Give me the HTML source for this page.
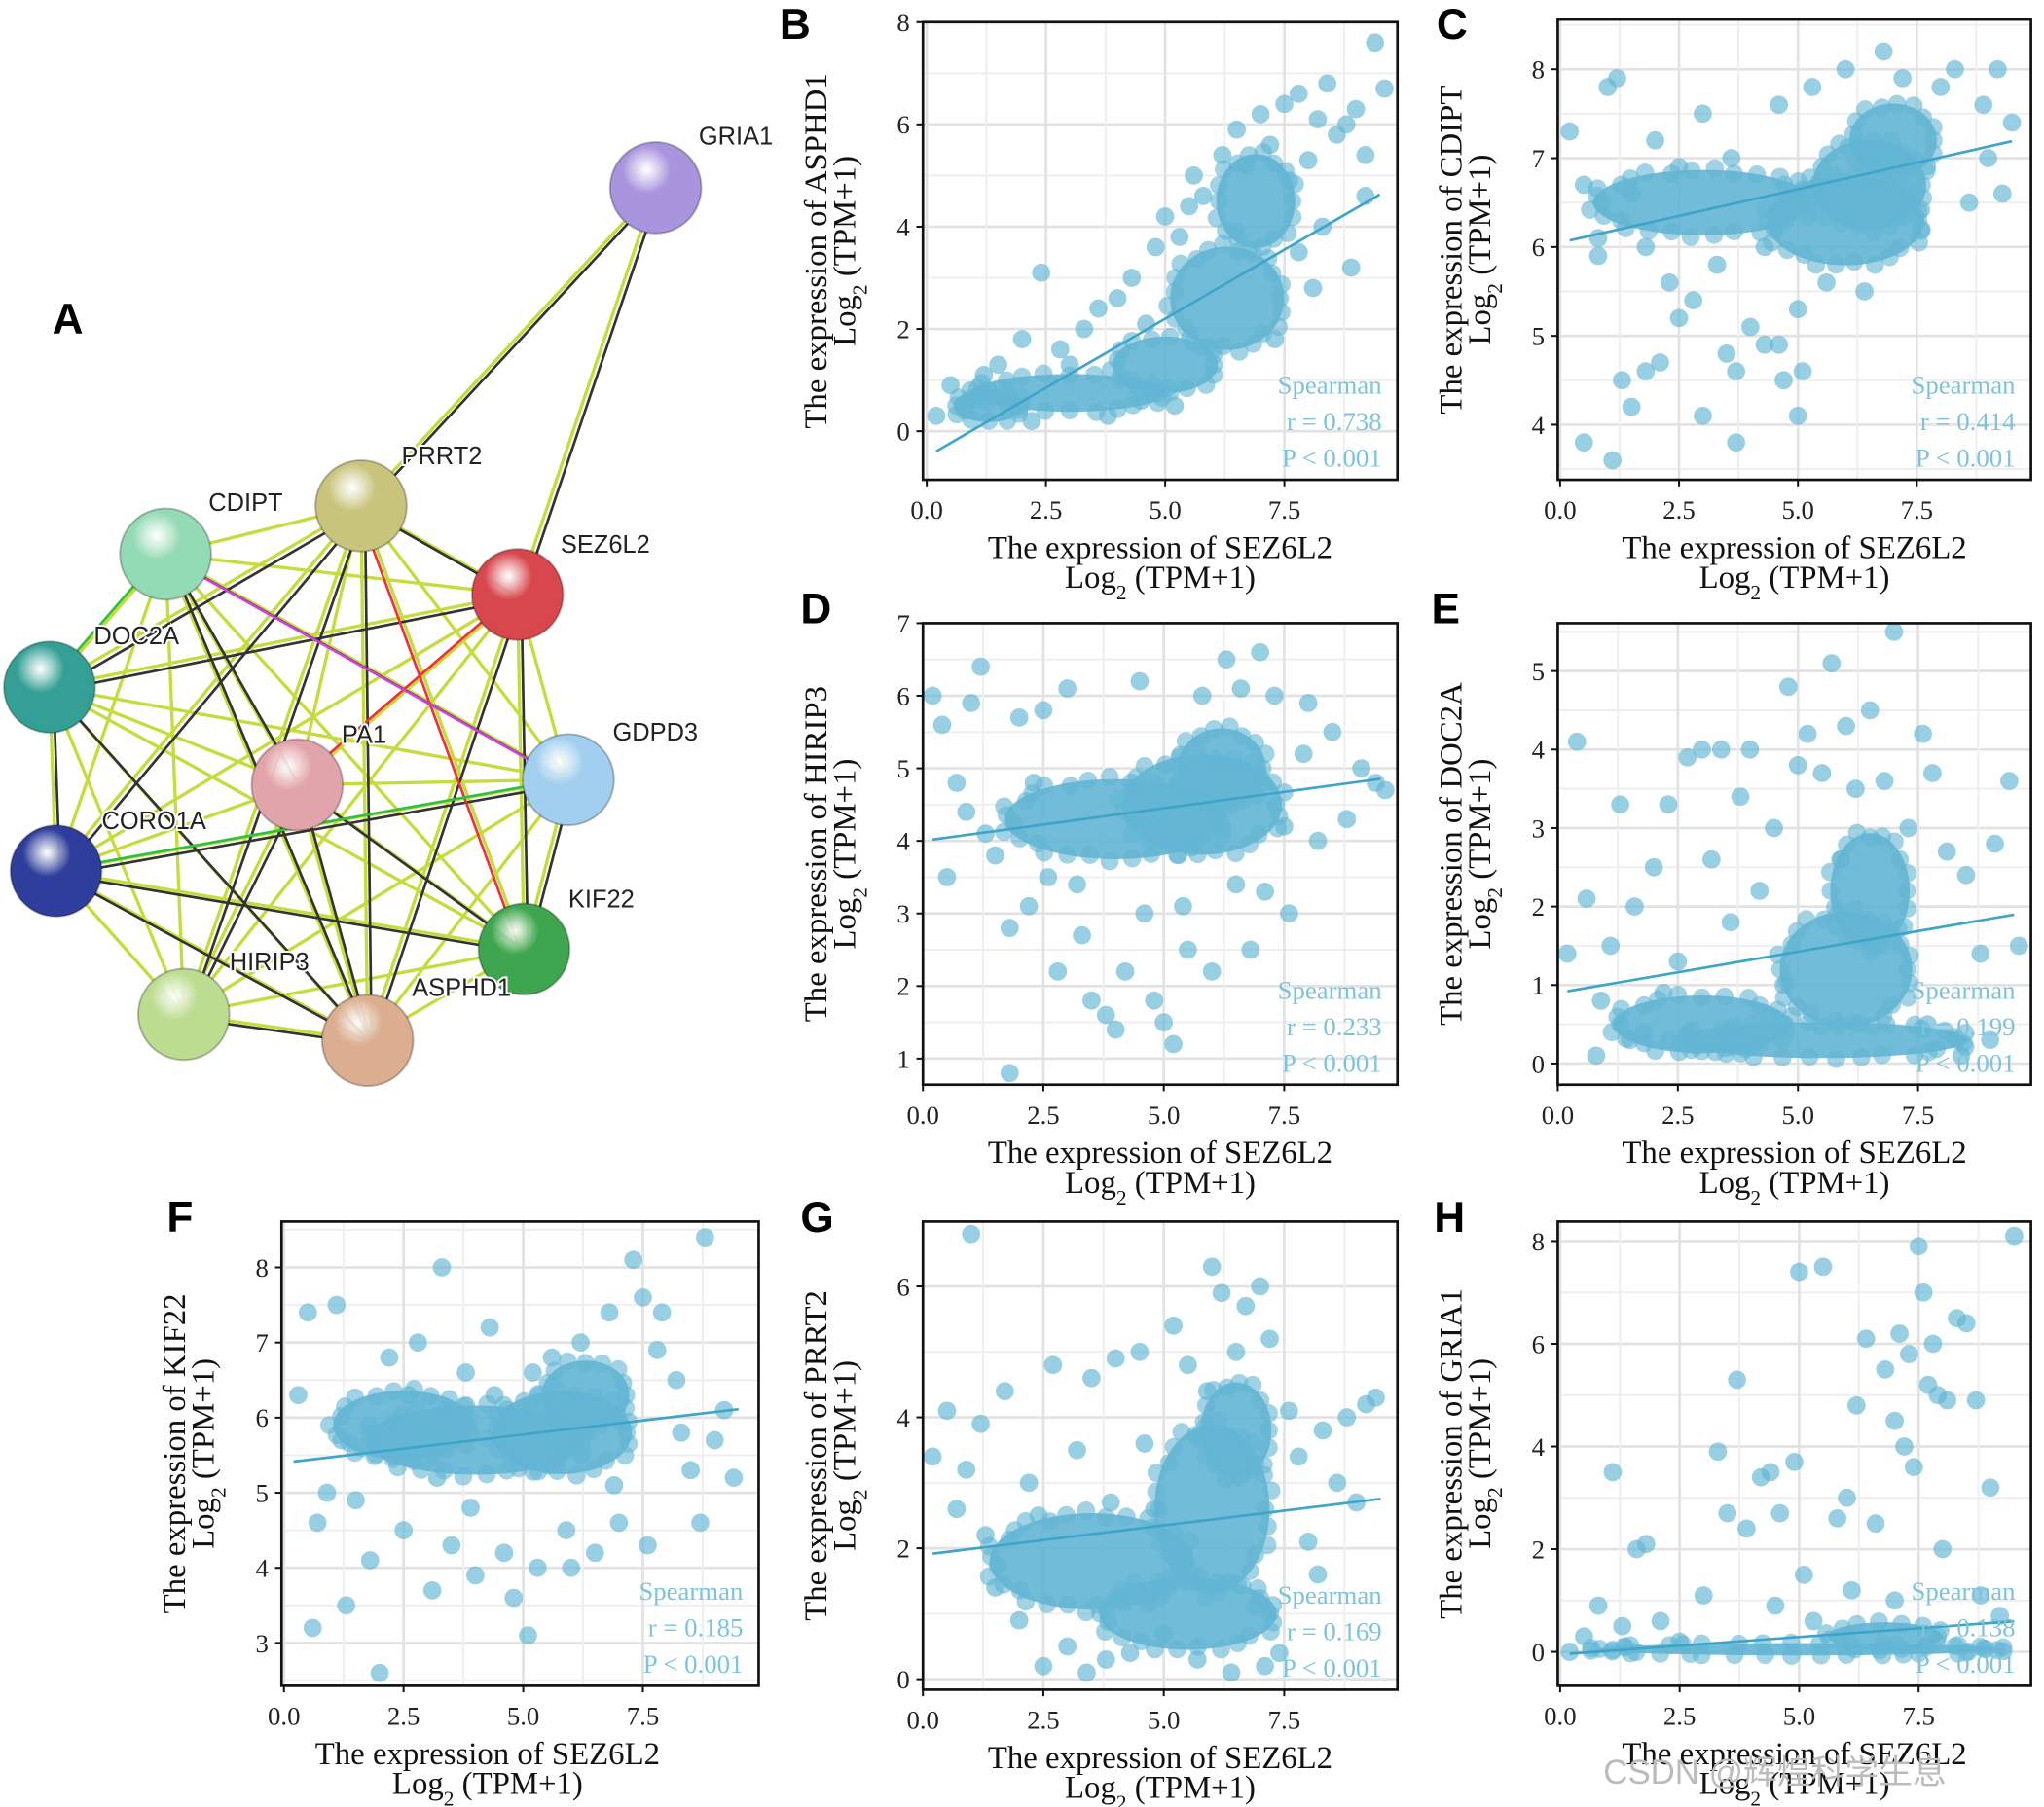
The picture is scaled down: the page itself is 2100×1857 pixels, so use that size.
<!DOCTYPE html>
<html><head><meta charset="utf-8"><style>
html,body{margin:0;padding:0;background:#fff;}
svg{display:block;}
.tk{font-family:"Liberation Serif",serif;font-size:20px;fill:#222;}
.tt{font-family:"Liberation Serif",serif;font-size:24.5px;fill:#111;}
.an{font-family:"Liberation Serif",serif;font-size:20px;fill:#7cc3dc;}
.pl{font-family:"Liberation Sans",sans-serif;font-size:33px;font-weight:bold;fill:#000;}
.nl{font-family:"Liberation Sans",sans-serif;font-size:19px;fill:#222;stroke:#fff;stroke-width:3px;paint-order:stroke;}
</style></head><body>
<svg id="fig" width="2100" height="1857" viewBox="0 0 1568 1386" preserveAspectRatio="none" xmlns="http://www.w3.org/2000/svg">
<rect width="1568" height="1386" fill="#fff"/>
<g id="net"></g>
<g id="plots"></g>
<text x="1230" y="1368" style="font-family:'Liberation Sans','Noto Sans CJK SC',sans-serif;font-size:26px;fill:#bbb;">CSDN @辉煌科学生息</text>
</svg>
<script>
const NS="http://www.w3.org/2000/svg";
function mk(t,a,p){const e=document.createElementNS(NS,t);for(const k in a)e.setAttribute(k,a[k]);p.appendChild(e);return e;}

// ---------- Network panel A ----------
const nodeNames=["GRIA1","PRRT2","CDIPT","SEZ6L2","DOC2A","PA1","GDPD3","CORO1A","KIF22","HIRIP3","ASPHD1"];
const nodeX=[503,277,127,397,38,228,436,43,402,141,282];
const nodeY=[144,388,425,456,527,602,598,668,728,778,798];
const nodeColors=["#a994de","#c9c47c","#93dbb4","#d8474e","#34a095","#e2a4ab","#a2cff0","#2f3e9c","#3ea64e","#bcdc90","#dcae90"];
const net=document.getElementById('net');
const others=[1,2,3,4,5,6,7,8,9,10];
const darkPairs=[[1,3],[1,4],[1,7],[1,10],[2,5],[2,10],[2,6],[3,4],[3,10],[3,8],[4,7],[4,10],[5,8],[5,9],[7,8],[7,10],[7,6],[9,10],[6,8],[5,10],[1,9]];
for(let i=0;i<others.length;i++)for(let j=i+1;j<others.length;j++){
  const a=others[i],b=others[j];
  const e=mk('line',{x1:nodeX[a],y1:nodeY[a],x2:nodeX[b],y2:nodeY[b],stroke:'#c6dc3c','stroke-width':2.5},net);
  
  
}
darkPairs.forEach(p=>{const e=mk('line',{x1:nodeX[p[0]]+3,y1:nodeY[p[0]]+3,x2:nodeX[p[1]]+3,y2:nodeY[p[1]]+3,stroke:'#333','stroke-width':2},net);
  
  });
[[0,1],[0,3]].forEach(p=>{
  mk('line',{x1:nodeX[p[0]],y1:nodeY[p[0]],x2:nodeX[p[1]],y2:nodeY[p[1]],stroke:'#c6dc3c','stroke-width':2.5},net);
  const e=mk('line',{x1:nodeX[p[0]]+4,y1:nodeY[p[0]],x2:nodeX[p[1]]+4,y2:nodeY[p[1]],stroke:'#333','stroke-width':2},net);
  
  });
[[1,8,'#f0303a'],[3,5,'#f0303a'],[2,6,'#d040e0'],[2,4,'#30c040'],[7,6,'#30c040']].forEach(p=>{
  const e=mk('line',{x1:nodeX[p[0]]-3,y1:nodeY[p[0]],x2:nodeX[p[1]]-3,y2:nodeY[p[1]],stroke:p[2],'stroke-width':2},net);
  
  });
const defs=mk('defs',{},net);
nodeNames.forEach((n,i)=>{
  const g=mk('radialGradient',{id:'g'+i,cx:'40%',cy:'30%',r:'75%'},defs);
  mk('stop',{offset:'0%','stop-color':'#ffffff','stop-opacity':0.9},g);
  mk('stop',{offset:'35%','stop-color':nodeColors[i]},g);
  mk('stop',{offset:'100%','stop-color':nodeColors[i],'stop-opacity':1},g);
});
nodeNames.forEach((n,i)=>{
  const c=mk('circle',{cx:nodeX[i],cy:nodeY[i],r:35,fill:'url(#g'+i+')',stroke:'rgba(0,0,0,0.25)','stroke-width':1.5},net);
  
  
});
const labX=[536,308,160,430,72,262,470,78,436,176,316];
const labY=[111,356,392,424,494,570,568,636,696,744,764];
nodeNames.forEach((n,i)=>{
  const t=mk('text',{x:labX[i],y:labY[i],class:'nl'},net);t.textContent=n;
  
  
});
const la=mk('text',{x:40,y:256,class:'pl'},net);la.textContent='A';



// ---------- Scatter data ----------
const xTicks=[0,2.5,5,7.5];
const xTickLabels=["0.0","2.5","5.0","7.5"];
const panelLetters=["B","C","D","E","F","G","H"];
const genes=["ASPHD1","CDIPT","HIRIP3","DOC2A","KIF22","PRRT2","GRIA1"];
const rValues=["0.738","0.414","0.233","0.199","0.185","0.169","0.138"];
const yTicksB=[0,2,4,6,8],yTicksC=[4,5,6,7,8],yTicksD=[1,2,3,4,5,6,7],yTicksE=[0,1,2,3,4,5],yTicksF=[3,4,5,6,7,8],yTicksG=[0,2,4,6],yTicksH=[0,2,4,6,8];
const intercepts=[-0.5,6.05,4.0,0.9,5.4,1.9,-0.05];
const slopes=[0.54,0.12,0.09,0.105,0.075,0.09,0.068];
const ptsB=[[0.2,0.3],[0.5,0.9],[1,0.6],[1.5,1.3],[2,1.8],[2.4,3.1],[2.8,1.6],[3.3,2.0],[3.6,2.4],[4,2.6],[4.3,3.0],[4.6,2.1],[4.8,3.6],[5,4.2],[5.3,3.8],[5.5,4.4],[5.6,5.0],[5.8,4.6],[6.2,5.4],[6.5,5.9],[6.7,5.2],[7,6.2],[7.2,5.6],[7.5,6.4],[7.8,6.6],[8,5.3],[8.2,6.1],[8.4,6.8],[8.6,5.8],[8.8,6.0],[9,6.3],[9.2,5.4],[9.4,7.6],[9.6,6.7],[7.6,4.9],[8.3,4.0],[6,1.6],[7.3,1.8],[8.1,2.8],[8.9,3.2],[3.8,0.3],[4.5,0.6],[2.2,0.2],[1.2,1.1],[0.8,0.4],[3,1.3],[6.5,3.9],[7.8,3.5],[9.2,4.6],[5.2,0.5]];
const ptsC=[[0.2,7.3],[0.5,6.7],[0.8,6.1],[1,7.8],[1.2,7.9],[1.5,6.6],[1.8,6.0],[2,7.2],[2.3,5.6],[2.5,6.9],[2.8,5.4],[3,7.5],[3.3,5.8],[3.6,7.0],[4,5.1],[4.3,6.0],[4.6,7.6],[5,5.3],[5.3,7.8],[5.6,5.6],[6,8.0],[6.4,5.5],[6.8,8.2],[7.2,7.9],[7.6,6.2],[8,7.8],[8.3,8.0],[8.6,6.5],[8.9,7.6],[9.2,8.0],[9.5,7.4],[9.3,6.6],[0.5,3.8],[1.1,3.6],[1.5,4.2],[1.8,4.6],[2.1,4.7],[1.3,4.5],[3,4.1],[3.5,4.8],[3.7,4.6],[4.3,4.9],[4.6,4.9],[4.7,4.5],[5,4.1],[5.1,4.6],[3.7,3.8],[2.5,5.2],[0.8,5.9],[9,7.0]];
const ptsD=[[0.2,6.0],[0.4,5.6],[0.7,4.8],[1,5.9],[1.2,6.4],[1.5,3.8],[1.8,2.8],[2,5.7],[2.2,3.1],[2.5,5.8],[2.8,2.2],[3,6.1],[3.3,2.7],[3.5,1.8],[3.8,1.6],[4,1.4],[4.2,2.2],[4.5,6.2],[4.8,1.8],[5,1.5],[5.2,1.2],[5.5,2.5],[5.8,6.0],[6,2.2],[6.3,6.5],[6.6,6.1],[7,6.6],[7.3,6.0],[7.6,3.0],[7.9,5.2],[8.2,4.0],[8.5,5.5],[8.8,4.3],[9.1,5.0],[9.4,4.8],[9.6,4.7],[1.8,0.8],[0.5,3.5],[1.3,4.1],[2.6,3.5],[3.2,3.4],[6.8,2.5],[7.1,3.3],[8,5.9],[0.9,4.4],[2.3,4.8],[4.6,3.0],[5.4,3.1],[6.5,3.4],[7.5,4.2]];
const ptsE=[[0.2,1.4],[0.4,4.1],[0.6,2.1],[0.9,0.8],[1.1,1.5],[1.3,3.3],[1.6,2.0],[1.8,0.4],[2,2.5],[2.3,3.3],[2.5,1.3],[2.7,3.9],[3,4.0],[3.2,2.6],[3.4,4.0],[3.6,1.8],[3.8,3.4],[4,4.0],[4.2,2.2],[4.5,3.0],[4.7,1.0],[5,3.8],[5.2,4.2],[5.5,3.7],[5.7,5.1],[6,4.3],[6.2,3.5],[6.5,4.5],[6.8,3.6],[7,5.5],[7.3,3.0],[7.6,4.2],[7.8,3.7],[8.1,2.7],[8.5,2.4],[8.8,1.4],[9.1,2.8],[9.4,3.6],[9.6,1.5],[0.8,0.1],[1.5,0.3],[2.2,0.9],[3.5,0.2],[4.4,0.6],[6.6,1.5],[7.7,0.5],[8.4,0.1],[9,0.3],[5.9,2.6],[4.8,4.8]];
const ptsF=[[0.3,6.3],[0.5,7.4],[0.6,3.2],[0.9,5.0],[1.1,7.5],[1.3,3.5],[1.5,4.9],[1.8,4.1],[2,2.6],[2.2,6.8],[2.5,4.5],[2.8,7.0],[3.1,3.7],[3.3,8.0],[3.5,4.3],[3.8,6.6],[4,3.9],[4.3,7.2],[4.6,4.2],[4.8,3.6],[5.1,3.1],[5.3,4.0],[5.6,6.8],[5.9,4.5],[6.2,7.0],[6.5,4.2],[6.8,7.4],[7,4.6],[7.3,8.1],[7.6,4.3],[7.9,7.4],[8.2,6.5],[8.5,5.3],[8.7,4.6],[9,5.7],[9.2,6.1],[9.4,5.2],[8.8,8.4],[6,4.0],[7.5,7.6],[1.2,5.7],[3.2,5.2],[4.4,6.3],[6.9,5.1],[7.8,6.9],[2.6,6.3],[3.9,4.8],[5.2,6.6],[8.3,5.8],[0.7,4.6]];
const ptsG=[[0.2,3.4],[0.5,4.1],[0.7,2.6],[1,6.8],[1.2,3.9],[1.5,1.4],[1.7,4.4],[2,0.9],[2.2,3.0],[2.5,0.2],[2.7,4.8],[3,0.5],[3.2,3.5],[3.5,4.6],[3.8,0.3],[4,4.9],[4.3,0.4],[4.5,5.0],[4.8,2.6],[5,0.7],[5.2,5.4],[5.5,4.8],[5.7,0.3],[6,6.3],[6.2,5.9],[6.5,5.0],[6.7,5.7],[7,6.0],[7.2,5.2],[7.4,0.4],[7.6,4.1],[7.8,3.4],[8,2.1],[8.3,3.8],[8.6,3.0],[8.8,4.0],[9,2.7],[9.2,4.2],[9.4,4.3],[6.4,0.1],[3.4,0.1],[1.3,2.2],[2.4,2.5],[3.9,2.7],[4.6,3.6],[5.9,4.4],[6.9,1.1],[7.1,0.2],[8.2,1.6],[0.9,3.2]];
const ptsH=[[0.2,0],[0.5,0.3],[0.8,0.9],[1.1,3.5],[1.3,0.5],[1.6,2.0],[1.8,2.1],[2.1,0.6],[2.5,0.2],[3,1.1],[3.3,3.9],[3.5,2.7],[3.7,5.3],[3.9,2.4],[4.2,3.4],[4.4,3.5],[4.6,2.7],[4.9,3.7],[5,7.4],[5.3,0.6],[5.5,7.5],[5.8,2.6],[6,3.0],[6.2,4.8],[6.4,6.1],[6.6,2.5],[6.8,5.5],[7,4.5],[7.1,6.2],[7.2,4.0],[7.3,5.8],[7.4,3.6],[7.5,7.9],[7.6,7.0],[7.7,5.2],[7.8,6.0],[7.9,5.0],[8.1,4.9],[8.3,6.5],[8.5,6.4],[8.7,4.9],[9,3.2],[9.5,8.1],[8.8,1.1],[9.2,0.7],[6.1,1.2],[5.1,1.5],[4.5,0.9],[7,1.0],[8,2.0]];
// dense cloud regions: [cx, cy, rx, ry] in data units
const coreB=[[6.3,2.6,1.3,1.1],[3,0.75,2.2,0.4],[5,1.3,1.2,0.6],[6.9,4.5,0.9,1.0],[1.3,0.5,0.8,0.35]];
const coreC=[[6.5,6.7,1.3,0.55],[6,6.3,1.8,0.55],[3,6.5,2.5,0.4],[7,7.2,1,0.45]];
const coreD=[[5.8,4.5,1.8,0.75],[4,4.3,2.5,0.6],[6.2,5,1,0.6]];
const coreE=[[6,1.2,1.5,0.8],[5.5,0.3,3.3,0.25],[6.5,2.2,0.9,0.8],[3,0.5,2,0.4]];
const coreF=[[5.8,5.8,1.6,0.6],[4,5.7,2.5,0.5],[6.3,6.3,1,0.5],[2.5,5.9,1.6,0.5]];
const coreG=[[6,2.6,1.3,1.4],[5.5,1.0,2.0,0.6],[3.5,1.8,2.3,0.8],[6.5,3.8,0.8,0.8]];
const coreH=[[5,0.05,4.6,0.13],[6.8,0.3,1.3,0.3]];

const allPts=[ptsB,ptsC,ptsD,ptsE,ptsF,ptsG,ptsH];
const allCores=[coreB,coreC,coreD,coreE,coreF,coreG,coreH];
const allYTicks=[yTicksB,yTicksC,yTicksD,yTicksE,yTicksF,yTicksG,yTicksH];
const boxes=[[708,17,1072,368],[1195,15,1558,368],[708,478,1072,832],[1195,478,1558,832],[216,937,582,1293],[708,937,1072,1296],[1195,937,1558,1293]];
const xDom=[[-0.08,9.87],[-0.05,9.9],[0,9.85],[0,9.85],[-0.05,9.92],[0,9.85],[-0.05,9.85]];
const yDom=[[-0.95,8],[3.38,8.56],[0.64,7],[-0.27,5.61],[2.43,8.61],[-0.16,6.99],[-0.66,8.38]];
const letterPos=[[598,30],[1102,30],[614,478],[1098,478],[128,945],[614,945],[1100,945]];

const plots=document.getElementById('plots');
const PC='#62b5d4';
for(let p=0;p<7;p++){
  const [L,T,R,B]=boxes[p];
  const sx=v=>L+(v-xDom[p][0])/(xDom[p][1]-xDom[p][0])*(R-L);
  const sy=v=>B-(v-yDom[p][0])/(yDom[p][1]-yDom[p][0])*(B-T);
  const g=mk('g',{},plots);
  
  
  const cid='clip'+p;
  const cp=mk('clipPath',{id:cid},g);mk('rect',{x:L,y:T,width:R-L,height:B-T},cp);
  const yt=allYTicks[p];const step=yt[1]-yt[0];
  for(let v=yt[0]-step;v<=yt[yt.length-1]+step;v+=step/2){
    if(v<yDom[p][0]||v>yDom[p][1])continue;
    const major=Math.abs((v-yt[0])/step-Math.round((v-yt[0])/step))<1e-6;
    mk('line',{x1:L,x2:R,y1:sy(v),y2:sy(v),stroke:major?'#e2e2e2':'#efefef','stroke-width':major?2:1.5},g);
  }
  for(let v=-1.25;v<=10;v+=1.25){
    if(v<xDom[p][0]||v>xDom[p][1])continue;
    const major=Math.abs(v/2.5-Math.round(v/2.5))<1e-6;
    mk('line',{y1:T,y2:B,x1:sx(v),x2:sx(v),stroke:major?'#e2e2e2':'#efefef','stroke-width':major?2:1.5},g);
  }
  const cg=mk('g',{'clip-path':'url(#'+cid+')'},g);
  allCores[p].forEach(c=>{
    const rx=Math.abs(sx(c[0]+c[2])-sx(c[0])),ry=Math.abs(sy(c[1]+c[3])-sy(c[1]));
    const cxp=sx(c[0]),cyp=sy(c[1]);
    const e=mk('ellipse',{cx:cxp,cy:cyp,rx:rx*0.92,ry:ry*0.92,fill:PC,'fill-opacity':0.9},cg);
    
    
    const n=Math.max(12,Math.round((rx+ry)/4));
    for(let k=0;k<n;k++){
      const a=k/n*2*Math.PI;
      const f=0.85+0.12*((k*7)%3)/2;
      const c2=mk('circle',{cx:cxp+Math.cos(a)*rx*f,cy:cyp+Math.sin(a)*ry*f,r:7,fill:PC,'fill-opacity':0.6},cg);
      
      
    }
  });
  allPts[p].forEach(q=>{
    const c=mk('circle',{cx:sx(q[0]),cy:sy(q[1]),r:7,fill:PC,'fill-opacity':0.65},cg);
    
    
  });
  const x0=0.2,x1=9.5;
  const ln=mk('line',{x1:sx(x0),y1:sy(intercepts[p]+slopes[p]*x0),x2:sx(x1),y2:sy(intercepts[p]+slopes[p]*x1),stroke:'#3ea5c8','stroke-width':2},cg);
  
  
  const bx=mk('rect',{x:L,y:T,width:R-L,height:B-T,fill:'none',stroke:'#111','stroke-width':2},g);
  
  
  yt.forEach(v=>{
    mk('line',{x1:L-5,x2:L,y1:sy(v),y2:sy(v),stroke:'#111','stroke-width':1.5},g);
    const t=mk('text',{x:L-10,y:sy(v)+7,class:'tk','text-anchor':'end'},g);t.textContent=v;
    
    
  });
  xTicks.forEach((v,i)=>{
    mk('line',{x1:sx(v),x2:sx(v),y1:B,y2:B+5,stroke:'#111','stroke-width':1.5},g);
    const t=mk('text',{x:sx(v),y:B+30,class:'tk','text-anchor':'middle'},g);t.textContent=xTickLabels[i];
    
    
  });
  const cx=(L+R)/2+(p===4?-25:0);
  const xt=mk('text',{x:cx,y:B+60,class:'tt','text-anchor':'middle'},g);xt.textContent='The expression of SEZ6L2';
  
  
  const xt2=mk('text',{x:cx,y:B+83,class:'tt','text-anchor':'middle'},g);
  xt2.innerHTML='Log<tspan baseline-shift="sub" font-size="16">2</tspan> (TPM+1)';
  
  
  const cy=(T+B)/2;
  const yx=L-74;
  const y1=mk('text',{x:yx,y:cy,class:'tt','text-anchor':'middle',transform:'rotate(-90 '+yx+' '+cy+')'},g);y1.textContent='The expression of '+genes[p];
  
  
  const y2=mk('text',{x:yx+22,y:cy,class:'tt','text-anchor':'middle',transform:'rotate(-90 '+(yx+22)+' '+cy+')'},g);
  y2.innerHTML='Log<tspan baseline-shift="sub" font-size="16">2</tspan> (TPM+1)';
  
  
  ['Spearman','r = '+rValues[p],'P < 0.001'].forEach((s,i)=>{
    const t=mk('text',{x:R-12,y:B-66+i*28,class:'an','text-anchor':'end'},g);t.textContent=s;
    
    
  });
  const lt=mk('text',{x:letterPos[p][0],y:letterPos[p][1],class:'pl'},g);lt.textContent=panelLetters[p];
  
  
}
</script>
</body></html>
